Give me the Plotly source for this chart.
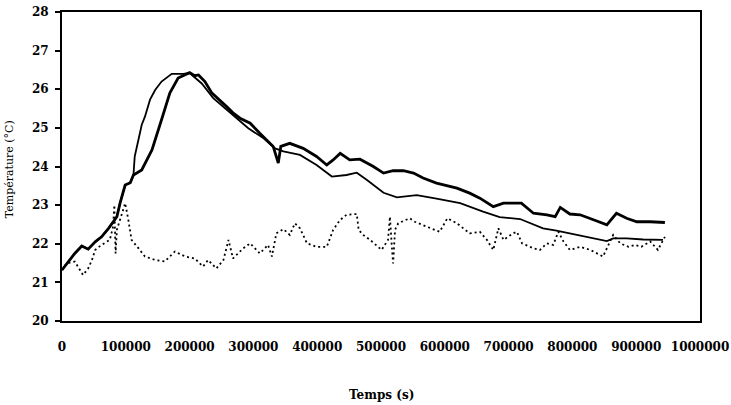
import plotly.graph_objects as go

# Measured temperature (thick solid line)
t_meas = [0, 10000, 20000, 31000, 41000, 52000, 62000, 73000, 80000, 86000, 91000, 99000,
          107000, 112000, 125000, 141000, 156000, 169000, 182000, 193000, 200000, 208000,
          214000, 224000, 235000, 258000, 268000, 279000, 295000, 310000, 331000, 339000,
          343000, 357000, 378000, 399000, 415000, 425000, 436000, 451000, 467000, 488000,
          504000, 519000, 535000, 551000, 566000, 587000, 619000, 639000, 655000, 676000,
          692000, 713000, 720000, 739000, 760000, 773000, 781000, 796000, 812000, 833000,
          854000, 869000, 885000, 901000, 922000, 945000]
temp_meas = [21.32, 21.54, 21.75, 21.94, 21.86, 22.05, 22.18, 22.40, 22.57, 22.70, 23.05, 23.52,
             23.58, 23.78, 23.91, 24.43, 25.21, 25.90, 26.29, 26.37, 26.43, 26.35,
             26.37, 26.20, 25.90, 25.55, 25.39, 25.25, 25.12, 24.86, 24.52, 24.09,
             24.52, 24.60, 24.47, 24.26, 24.04, 24.17, 24.34, 24.17, 24.19, 24.00,
             23.83, 23.89, 23.89, 23.83, 23.70, 23.57, 23.44, 23.31, 23.18, 22.96,
             23.05, 23.05, 23.05, 22.79, 22.75, 22.70, 22.94, 22.77, 22.75, 22.62,
             22.49, 22.79, 22.66, 22.57, 22.57, 22.55]

# Simulated temperature (thin solid line)
t_sim = [0, 10000, 20000, 31000, 41000, 52000, 62000, 73000, 80000, 86000, 91000, 99000,
         107000, 112000, 114000, 120000, 125000, 130000, 138000, 146000, 156000, 172000,
         190000, 200000, 219000, 237000, 268000, 292000, 316000, 334000, 347000, 373000,
         399000, 423000, 446000, 462000, 478000, 504000, 525000, 556000, 587000, 624000,
         660000, 686000, 718000, 739000, 754000, 775000, 796000, 822000, 854000, 864000,
         885000, 911000, 942000]
temp_sim = [21.32, 21.54, 21.75, 21.94, 21.86, 22.05, 22.18, 22.40, 22.57, 22.70, 23.05, 23.52,
            23.58, 23.78, 24.26, 24.69, 25.08, 25.29, 25.73, 25.98, 26.20, 26.40,
            26.40, 26.42, 26.15, 25.77, 25.34, 24.99, 24.73, 24.47, 24.39, 24.30,
            24.04, 23.74, 23.78, 23.84, 23.65, 23.32, 23.20, 23.26, 23.17, 23.05,
            22.83, 22.69, 22.64, 22.49, 22.40, 22.34, 22.27, 22.18, 22.07, 22.14,
            22.14, 22.11, 22.10]

# Outdoor / reference temperature (dotted line)
t_ext = [0, 7000, 20000, 26000, 33000, 41000, 47000, 52000, 62000, 75000, 80000, 82000,
         84000, 86000, 99000, 104000, 109000, 120000, 130000, 146000, 161000, 177000,
         193000, 208000, 221000, 229000, 242000, 253000, 261000, 268000, 284000, 295000,
         310000, 323000, 329000, 336000, 347000, 357000, 365000, 373000, 384000, 399000,
         415000, 425000, 436000, 446000, 462000, 465000, 472000, 483000, 501000, 511000,
         514000, 517000, 519000, 522000, 527000, 545000, 553000, 572000, 592000, 604000,
         619000, 639000, 655000, 666000, 676000, 684000, 692000, 707000, 713000, 721000,
         739000, 749000, 760000, 770000, 778000, 786000, 796000, 812000, 828000, 848000,
         856000, 864000, 875000, 888000, 898000, 908000, 922000, 934000, 945000]
temp_ext = [21.32, 21.49, 21.54, 21.36, 21.19, 21.36, 21.58, 21.84, 21.97, 22.10, 22.44, 23.00,
            21.75, 22.36, 23.05, 22.62, 22.10, 21.88, 21.67, 21.58, 21.54, 21.80,
            21.67, 21.62, 21.41, 21.58, 21.36, 21.58, 22.10, 21.62, 21.88, 22.01,
            21.75, 21.97, 21.67, 22.27, 22.38, 22.23, 22.53, 22.40, 22.01, 21.92,
            21.92, 22.36, 22.62, 22.75, 22.77, 22.36, 22.23, 22.10, 21.84, 22.10,
            22.70, 21.92, 21.49, 22.36, 22.53, 22.66, 22.57, 22.44, 22.31, 22.66,
            22.53, 22.27, 22.31, 22.10, 21.84, 22.40, 22.10, 22.27, 22.31, 22.01,
            21.88, 21.84, 22.01, 21.97, 22.31, 22.06, 21.84, 21.92, 21.84, 21.67,
            21.97, 22.23, 22.01, 21.92, 21.97, 21.92, 22.06, 21.84, 22.18]

x_ticks = [0, 100000, 200000, 300000, 400000, 500000, 600000, 700000, 800000, 900000, 1000000]
y_ticks = [20, 21, 22, 23, 24, 25, 26, 27, 28]

fig = go.Figure()
fig.add_trace(go.Scatter(x=t_ext, y=temp_ext, mode="lines",
                         line=dict(color="black", width=1.8, dash="2px,3px")))
fig.add_trace(go.Scatter(x=t_sim, y=temp_sim, mode="lines",
                         line=dict(color="black", width=1.8)))
fig.add_trace(go.Scatter(x=t_meas, y=temp_meas, mode="lines",
                         line=dict(color="black", width=2.8)))

font_axis = dict(family="DejaVu Serif", size=12, color="black", weight="bold")

fig.update_layout(
    width=731, height=405,
    margin=dict(l=62, r=31, t=12, b=84, autoexpand=False),
    paper_bgcolor="white", plot_bgcolor="white",
    showlegend=False,
    xaxis=dict(range=[0, 1000000], tickvals=x_ticks, ticktext=[str(v) for v in x_ticks],
               showgrid=False, zeroline=False, showline=True, linecolor="black", linewidth=2,
               mirror=True, ticks="", tickfont=font_axis, ticklabelstandoff=14,
               automargin=False),
    yaxis=dict(range=[20, 28], tickvals=y_ticks, ticktext=[str(v) for v in y_ticks],
               showgrid=False, zeroline=False, showline=True, linecolor="black", linewidth=2,
               mirror=True, ticks="outside", ticklen=5, tickwidth=1.5, tickcolor="black",
               tickfont=font_axis, ticklabelstandoff=4, automargin=False),
    annotations=[
        dict(text="Température (°C)", xref="paper", yref="paper", x=-0.082, y=0.49,
             textangle=-90, showarrow=False, xanchor="center", yanchor="middle",
             font=dict(family="DejaVu Serif", size=11, color="black")),
        dict(text="Temps (s)", xref="paper", yref="paper", x=0.5, y=-0.24,
             showarrow=False, xanchor="center", yanchor="middle",
             font=dict(family="DejaVu Serif", size=12, color="black", weight="bold")),
    ],
)

fig.write_html("out.html")
